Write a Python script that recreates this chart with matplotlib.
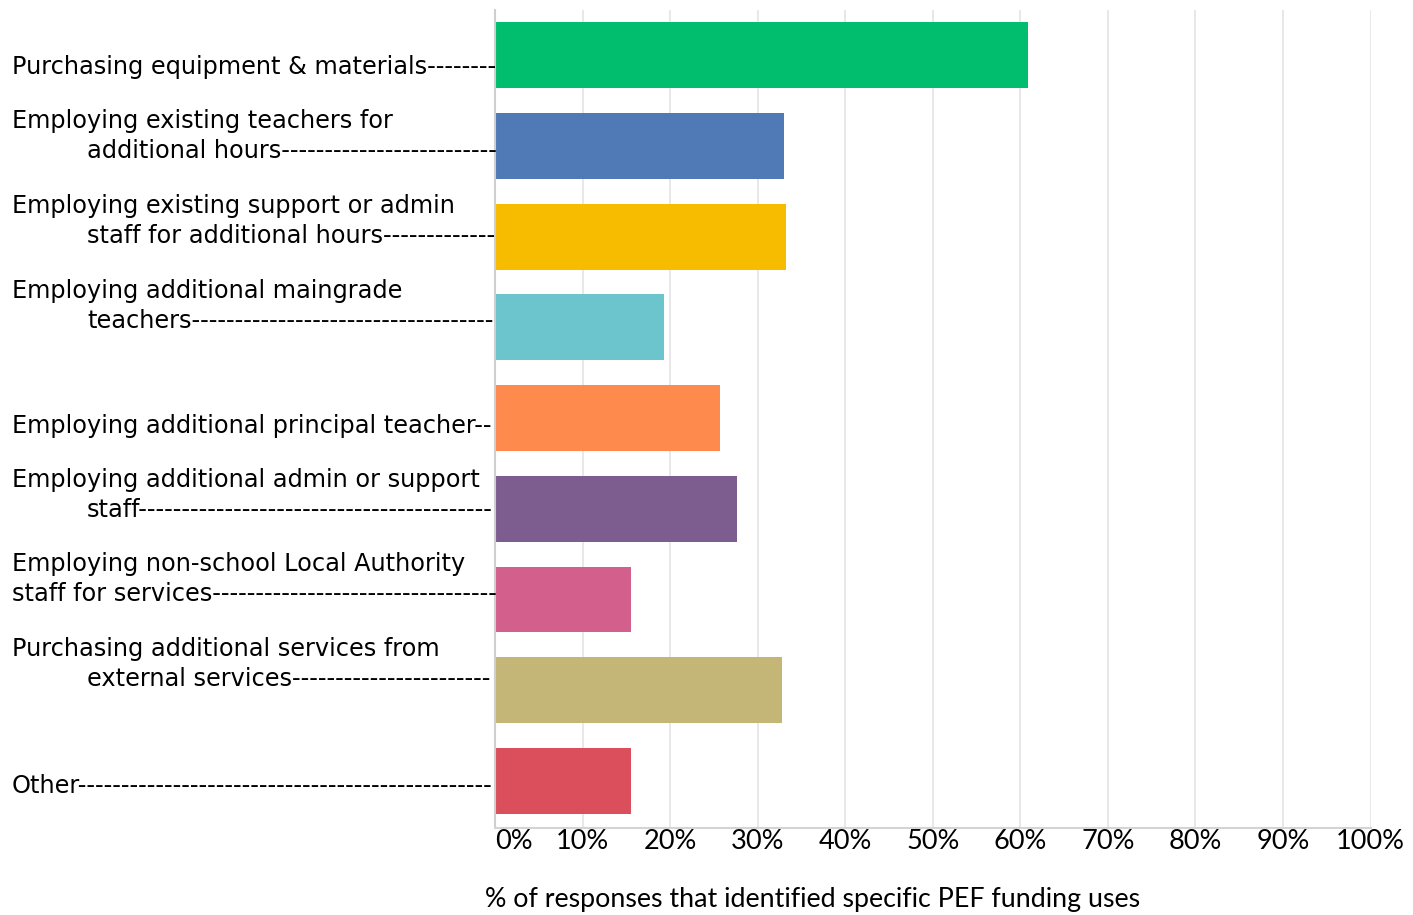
import matplotlib
matplotlib.use('Agg')
import matplotlib.pyplot as plt
import matplotlib.transforms as mtransforms

categories = [
    'Purchasing equipment & materials',
    'Employing existing teachers for\nadditional hours',
    'Employing existing support or admin\nstaff for additional hours',
    'Employing additional maingrade\nteachers',
    'Employing additional principal teacher',
    'Employing additional admin or support\nstaff',
    'Employing non-school Local Authority\nstaff for services',
    'Purchasing additional services from\nexternal services',
    'Other',
]
values = [60.9, 33.0, 33.2, 19.3, 25.7, 27.6, 15.5, 32.8, 15.5]
colors = ['#00BE6E', '#4F7AB5', '#F7BC00', '#6CC5CC', '#FF8A4E',
          '#7D5D8F', '#D35F8D', '#C4B677', '#DB4E5C']
xticks = [0, 10, 20, 30, 40, 50, 60, 70, 80, 90, 100]
xlabel = '% of responses that identified specific PEF funding uses'

# layout (pixels)
W, H = 1413, 915
ax_left, ax_right, ax_top, ax_bottom = 495, 1370.5, 10, 828
label_dy = [19, 12, 6, 1, 15, 8, 2, -4, 12]   # last line baseline below bar centre
hang = [True, True, True, True, True, True, False, True, True]
line_gap = 30
label_font = 17.3
narrow = ['Lato', 'DejaVu Sans']

fig = plt.figure(figsize=(W / 100, H / 100), dpi=100)
ax = fig.add_axes([ax_left / W, 1 - ax_bottom / H,
                   (ax_right - ax_left) / W, (ax_bottom - ax_top) / H])

ypos = list(range(len(categories)))
ax.barh(ypos, values, height=0.727, color=colors, zorder=2)
ax.set_ylim(8.52, -0.5)
ax.set_xlim(0, 100)

ax.set_xticks(xticks)
ax.set_xticklabels([f'{t}%' for t in xticks], family=narrow, fontsize=19.5)
ax.get_xticklabels()[0].set_ha('left')
ax.tick_params(axis='x', length=0, pad=1)
ax.set_yticks([])
ax.grid(axis='x', color='#e6e6e6', linewidth=1.3, zorder=0)

for s in ['top', 'right']:
    ax.spines[s].set_visible(False)
ax.spines['left'].set_color('#cfcfcf')
ax.spines['left'].set_linewidth(1.5)
ax.spines['bottom'].set_color('#d4d4d4')
ax.spines['bottom'].set_linewidth(1.5)

# category labels with dashed leaders running up to the axis
renderer = fig.canvas.get_renderer()
base = mtransforms.blended_transform_factory(fig.transFigure, ax.transData)
probe = fig.text(0, 0, '-' * 20, fontsize=label_font)
dash_w = probe.get_window_extent(renderer).width / 20
probe.remove()

for i, lab in enumerate(categories):
    lines = lab.split('\n')
    n = len(lines)
    for j, line in enumerate(lines):
        xpix = 12 if (j == 0 or not hang[i]) else 87
        dy = label_dy[i] - (n - 1 - j) * line_gap
        tr = mtransforms.offset_copy(base, fig=fig, x=0, y=-dy, units='dots')
        t = ax.text(xpix / W, i, line, transform=tr, fontsize=label_font,
                    va='baseline', ha='left', clip_on=False)
        if j == n - 1:
            w = t.get_window_extent(renderer).width
            nd = round((ax_left - 2 - xpix - w) / dash_w)
            t.set_text(line + '-' * max(nd, 0))

fig.text(485 / W, 1 - 900 / H, xlabel, family=narrow, fontsize=19.3,
         ha='left', va='center')

fig.savefig('out.png', dpi=100, facecolor='white')
